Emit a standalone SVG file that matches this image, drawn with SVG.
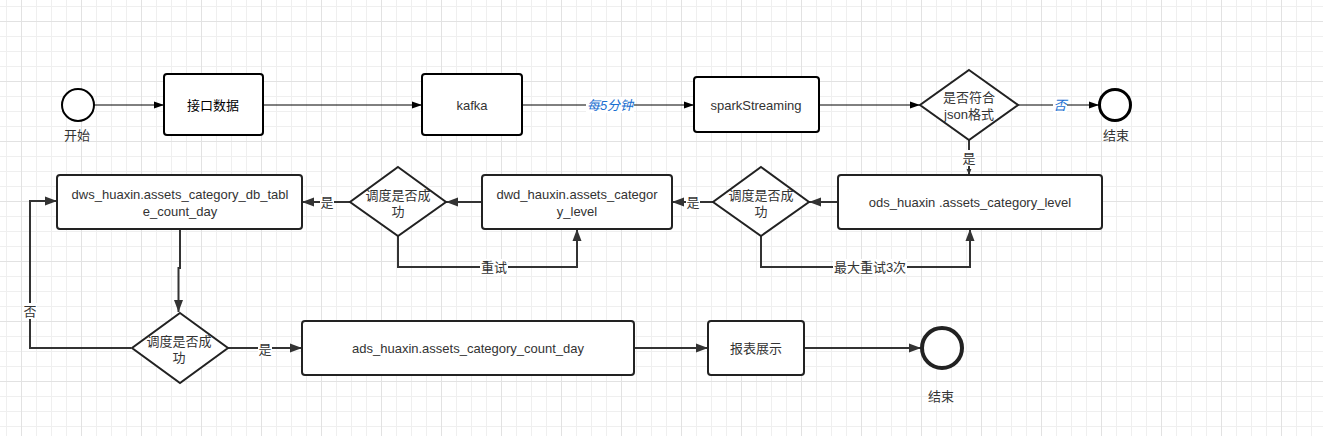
<svg xmlns="http://www.w3.org/2000/svg" width="1323" height="436" viewBox="0 0 1323 436">
<defs>
<pattern id="grid" patternUnits="userSpaceOnUse" x="21" y="21" width="60" height="60">
<rect x="15" y="0" width="1" height="60" fill="#efefef"/>
<rect x="30" y="0" width="1" height="60" fill="#efefef"/>
<rect x="45" y="0" width="1" height="60" fill="#efefef"/>
<rect x="0" y="15" width="60" height="1" fill="#efefef"/>
<rect x="0" y="30" width="60" height="1" fill="#efefef"/>
<rect x="0" y="45" width="60" height="1" fill="#efefef"/>
<rect x="0" y="0" width="1" height="60" fill="#e2e2e2"/>
<rect x="0" y="0" width="60" height="1" fill="#e2e2e2"/>
</pattern>
<marker id="a1" viewBox="0 0 10 10" refX="10" refY="5" markerWidth="10" markerHeight="10" markerUnits="userSpaceOnUse" orient="auto">
<path d="M0 1.5 L10 5 L0 8.5 Z" fill="#000"/>
</marker>
<marker id="a2" viewBox="0 0 12 12" refX="12" refY="6" markerWidth="12" markerHeight="12" markerUnits="userSpaceOnUse" orient="auto">
<path d="M0 1.5 L12 6 L0 10.5 Z" fill="#333"/>
</marker>
<marker id="a3" viewBox="0 0 10 10" refX="10" refY="5" markerWidth="6" markerHeight="6" markerUnits="userSpaceOnUse" orient="auto">
<path d="M0 1 L10 5 L0 9 Z" fill="#333"/>
</marker>
</defs>
<style>
.t{font-family:"Liberation Sans","Noto Sans CJK SC",sans-serif;font-size:13px;fill:#333;text-anchor:middle;dominant-baseline:central}
.b1{fill:#fff;stroke:#000;stroke-width:2}
.b2{fill:#fff;stroke:#222;stroke-width:2}
.c1{fill:none;stroke:#000;stroke-width:1}
.c2{fill:none;stroke:#333;stroke-width:2}
.lbl{fill:#fff}
.blue{fill:#1a6fd0;font-style:italic}
</style>
<rect width="1323" height="436" fill="#fff"/>
<rect width="1323" height="436" fill="url(#grid)"/>

<g id="connectors">
<path class="c1" d="M94 105 H164" marker-end="url(#a1)"/>
<path class="c1" d="M263 105 H422" marker-end="url(#a1)"/>
<path class="c1" d="M522 105 H694" marker-end="url(#a1)"/>
<rect class="lbl" x="586" y="97" width="48" height="16"/>
<text class="t blue" x="610" y="105">每5分钟</text>
<path class="c1" d="M819 105 H920" marker-end="url(#a1)"/>
<path class="c1" d="M1018 105 H1099" marker-end="url(#a1)"/>
<rect class="lbl" x="1053" y="97" width="14" height="16"/>
<text class="t blue" x="1060" y="105">否</text>
<path class="c2" d="M969 140 V175" marker-end="url(#a3)"/>
<rect class="lbl" x="962" y="150" width="14" height="16"/>
<text class="t" x="969" y="158">是</text>
<path class="c2" d="M838 202 H809" marker-end="url(#a2)"/>
<path class="c2" d="M713 202 H672" marker-end="url(#a2)"/>
<rect class="lbl" x="686" y="194" width="14" height="16"/>
<text class="t" x="693" y="202">是</text>
<path class="c2" d="M482 202 H446" marker-end="url(#a2)"/>
<path class="c2" d="M350 202 H302" marker-end="url(#a2)"/>
<rect class="lbl" x="320" y="194" width="14" height="16"/>
<text class="t" x="327" y="202">是</text>
<path class="c2" d="M398 236 V267 H577 V229" marker-end="url(#a2)"/>
<rect class="lbl" x="480" y="259" width="28" height="16"/>
<text class="t" x="494" y="267">重试</text>
<path class="c2" d="M761 236 V267 H970 V229" marker-end="url(#a2)"/>
<rect class="lbl" x="833" y="259" width="74" height="16"/>
<text class="t" x="870" y="267">最大重试3次</text>
<path class="c2" d="M180 229 V268 H178.5 V312" marker-end="url(#a2)"/>
<path class="c2" d="M131 348 H30 V201 H57" marker-end="url(#a2)"/>
<rect class="lbl" x="23" y="303" width="14" height="16"/>
<text class="t" x="30" y="311">否</text>
<path class="c2" d="M228 348 H302" marker-end="url(#a2)"/>
<rect class="lbl" x="258" y="340" width="14" height="16"/>
<text class="t" x="265" y="349">是</text>
<path class="c2" d="M634 348 H708" marker-end="url(#a2)"/>
<path class="c2" d="M804 348 H921" marker-end="url(#a2)"/>
</g>

<g id="start">
<circle cx="78" cy="105" r="16" fill="#fff" stroke="#000" stroke-width="2"/>
<text class="t" x="77" y="135">开始</text>
</g>
<g id="jiekou">
<rect class="b1" x="164" y="74" width="99" height="61" rx="3"/>
<text class="t" x="213" y="105" style="fill:#000">接口数据</text>
</g>
<g id="kafka">
<rect class="b1" x="422" y="74" width="100" height="61" rx="3"/>
<text class="t" x="472" y="105">kafka</text>
</g>
<g id="spark">
<rect class="b1" x="694" y="77" width="125" height="55" rx="3"/>
<text class="t" x="756" y="105">sparkStreaming</text>
</g>
<g id="json">
<path d="M969 70 L1018 105 L969 140 L920 105 Z" fill="#fff" stroke="#222" stroke-width="2"/>
<text class="t" x="969" y="97">是否符合</text>
<text class="t" x="969" y="114">json格式</text>
</g>
<g id="end1">
<circle cx="1115" cy="105" r="15.5" fill="#fff" stroke="#000" stroke-width="3"/>
<text class="t" x="1116" y="135">结束</text>
</g>
<g id="ods">
<rect class="b2" x="838" y="175" width="264" height="54" rx="3"/>
<text class="t" x="970" y="202">ods_huaxin .assets_category_level</text>
</g>
<g id="check2">
<path d="M761 167 L809 202 L761 236 L713 202 Z" fill="#fff" stroke="#222" stroke-width="2"/>
<text class="t" x="761" y="195">调度是否成</text>
<text class="t" x="761" y="211">功</text>
</g>
<g id="dwd">
<rect class="b2" x="482" y="175" width="190" height="54" rx="3"/>
<text class="t" x="577" y="194">dwd_hauxin.assets_categor</text>
<text class="t" x="577" y="211">y_level</text>
</g>
<g id="check1">
<path d="M398 167 L446 202 L398 236 L350 202 Z" fill="#fff" stroke="#222" stroke-width="2"/>
<text class="t" x="398" y="195">调度是否成</text>
<text class="t" x="398" y="211">功</text>
</g>
<g id="dws">
<rect class="b2" x="57" y="175" width="245" height="54" rx="3"/>
<text class="t" x="180" y="194">dws_huaxin.assets_category_db_tabl</text>
<text class="t" x="180" y="211">e_count_day</text>
</g>
<g id="check3">
<path d="M180 313 L228 348 L180 383 L132 348 Z" fill="#fff" stroke="#222" stroke-width="2"/>
<text class="t" x="179" y="341">调度是否成</text>
<text class="t" x="179" y="357">功</text>
</g>
<g id="ads">
<rect class="b2" x="302" y="321" width="332" height="54" rx="3"/>
<text class="t" x="468" y="348">ads_huaxin.assets_category_count_day</text>
</g>
<g id="report">
<rect class="b2" x="708" y="321" width="96" height="54" rx="3"/>
<text class="t" x="756" y="348">报表展示</text>
</g>
<g id="end2">
<circle cx="942" cy="348" r="20" fill="#fff" stroke="#222" stroke-width="4"/>
<text class="t" x="941" y="396">结束</text>
</g>
</svg>
